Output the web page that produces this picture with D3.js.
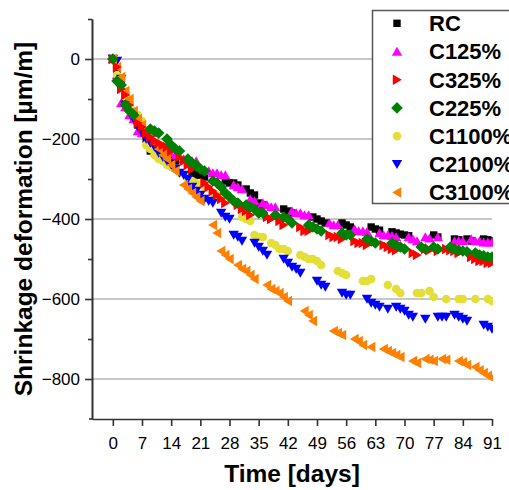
<!DOCTYPE html>
<html>
<head>
<meta charset="utf-8">
<script src="https://cdn.jsdelivr.net/npm/d3@7"></script>
<style>
  body { margin: 0; background: #fff; }
  text { font-family: Arial, "Liberation Sans", sans-serif; }
</style>
</head>
<body>
<div id="chart"></div>
<script>
// shrinkage deformation [µm/m] vs time [days]
var rc = [[0,0],[1,-30],[2,-65],[3,-100],[4,-125],[5,-145],[6,-165],[7,-180],[8,-200],[9,-230],[10,-235],[11,-240],[12,-245],[14,-250],[15,-255],
  [19,-285],[20,-290],[21,-290],[22,-295],[27,-305],[28,-310],[29,-310],[30,-315],[32,-325],[33,-335],[34,-340],[35,-360],[36,-365],
  [41,-375],[42,-380],[43,-385],[48,-395],[49,-400],[50,-405],[51,-410],[55,-410],[56,-415],[57,-420],[62,-420],[63,-425],[64,-428],
  [67,-432],[68,-435],[69,-438],[70,-440],[71,-442],[77,-440],[78,-445],[82,-450],[83,-452],[85,-450],[86,-455],[89,-450],[90,-452],[91,-455]]

var c125 = [[0,0],[1,-40],[2,-110],[3,-120],[4,-140],[5,-150],[6,-180],[7,-185],[9,-180],[10,-185],[12,-230],[13,-235],[14,-240],[15,-240],
  [17,-250],[18,-250],[19,-255],[20,-255],[23,-280],[24,-285],[25,-285],[26,-290],[27,-290],[29,-315],[30,-320],[31,-325],[33,-350],[34,-355],
  [36,-360],[37,-365],[38,-370],[39,-370],[43,-380],[44,-385],[45,-385],[46,-390],[47,-390],[52,-410],[53,-415],[54,-415],[58,-425],[59,-430],
  [60,-430],[61,-432],[64,-435],[65,-440],[66,-440],[67,-442],[68,-445],[71,-445],[72,-450],[73,-455],[75,-445],[76,-448],[78,-445],
  [82,-455],[83,-455],[84,-455],[86,-450],[87,-455],[88,-455],[89,-458],[90,-458],[91,-458]]

var c325 = [[0,0],[1,-20],[2,-75],[3,-90],[4,-115],[5,-135],[6,-160],[7,-170],[8,-185],[9,-195],[10,-205],[11,-210],[12,-215],[13,-220],[14,-230],
  [16,-245],[17,-255],[18,-265],[19,-275],[22,-310],[23,-320],[24,-330],[25,-340],[26,-350],[27,-360],[30,-365],[31,-375],[32,-380],[33,-390],
  [36,-385],[37,-395],[38,-400],[40,-405],[41,-415],[45,-420],[46,-430],[47,-430],[52,-440],[53,-445],[54,-445],[55,-450],[58,-455],[59,-460],
  [60,-460],[61,-465],[65,-465],[66,-470],[67,-475],[68,-478],[72,-485],[73,-490],[75,-475],[76,-478],[78,-480],[80,-475],[81,-478],[82,-480],
  [83,-485],[86,-495],[87,-500],[88,-505],[89,-505],[90,-510],[91,-510]]

var c225 = [[0,0],[1,-55],[2,-65],[3,-115],[4,-130],[5,-140],[9,-175],[10,-180],[11,-185],[13,-200],[14,-215],[15,-225],[16,-230],
  [18,-250],[19,-260],[20,-265],[21,-275],[22,-280],[24,-305],[25,-310],[26,-320],[27,-335],[28,-345],[29,-355],[30,-360],[32,-365],[33,-370],
  [34,-375],[35,-385],[36,-385],[39,-390],[41,-395],[42,-400],[43,-410],[47,-415],[48,-420],[49,-425],[50,-430],[55,-435],[56,-440],[57,-440],
  [61,-450],[62,-455],[63,-460],[67,-460],[68,-465],[69,-470],[70,-475],[74,-470],[75,-475],[77,-470],[78,-475],[81,-470],[82,-475],[83,-478],
  [84,-480],[85,-482],[87,-485],[88,-490],[89,-492],[90,-495],[91,-495]]

var c1100 = [[0,0],[1,-40],[2,-70],[3,-95],[4,-115],[5,-130],[6,-140],[7,-155],[8,-215],[9,-225],[10,-240],[11,-250],[12,-255],[13,-265],[14,-270],
  [16,-285],[18,-300],[19,-305],[20,-310],[21,-315],[22,-320],[24,-335],[25,-340],[26,-345],[31,-395],[32,-400],[33,-405],[34,-440],[35,-445],
  [36,-445],[38,-460],[39,-465],[40,-475],[41,-475],[42,-480],[45,-490],[46,-495],[47,-500],[48,-500],[49,-505],[50,-515],[54,-530],[55,-535],
  [56,-540],[60,-555],[61,-555],[62,-550],[66,-565],[68,-575],[69,-585],[73,-585],[74,-585],[76,-580],[77,-595],[80,-600],[83,-600],[84,-600],
  [87,-600],[90,-600],[91,-605]]

var c2100 = [[0,0],[1,-5],[2,-50],[3,-115],[4,-135],[5,-150],[6,-170],[7,-185],[8,-200],[9,-210],[10,-220],[11,-235],[12,-245],[13,-255],[14,-265],
  [15,-275],[16,-285],[17,-290],[18,-300],[19,-320],[20,-330],[21,-340],[22,-350],[23,-355],[24,-360],[26,-385],[27,-395],[28,-400],[29,-440],
  [30,-445],[31,-455],[34,-460],[35,-470],[36,-480],[37,-490],[41,-500],[42,-510],[43,-520],[44,-525],[45,-535],[49,-555],[50,-565],[51,-570],
  [55,-585],[56,-590],[57,-590],[61,-600],[62,-610],[63,-615],[64,-620],[66,-625],[68,-620],[69,-625],[70,-630],[71,-640],[72,-645],[75,-650],
  [78,-645],[79,-645],[80,-645],[82,-640],[83,-645],[84,-650],[85,-655],[89,-665],[90,-670],[91,-675]]

var c3100 = [[0,0],[1,-20],[2,-45],[3,-80],[4,-100],[5,-130],[6,-150],[7,-165],[8,-180],[9,-195],[10,-210],[11,-225],[12,-240],[13,-250],[14,-265],
  [15,-280],[17,-315],[18,-325],[19,-335],[20,-345],[21,-355],[24,-415],[25,-435],[26,-480],[27,-490],[28,-500],[30,-515],[31,-525],[32,-530],
  [33,-540],[34,-550],[37,-565],[38,-575],[39,-580],[40,-585],[41,-595],[42,-605],[46,-630],[47,-640],[48,-655],[53,-680],[54,-685],[55,-690],
  [58,-700],[59,-705],[60,-715],[62,-720],[65,-725],[66,-730],[67,-735],[68,-740],[69,-745],[72,-755],[73,-760],[75,-750],[76,-752],[77,-755],
  [79,-750],[80,-752],[83,-755],[84,-758],[85,-765],[87,-770],[88,-778],[89,-785],[90,-792],[91,-797]]

var names = ['RC', 'C125%', 'C325%', 'C225%', 'C1100%', 'C2100%', 'C3100%']
var colors = ['#000000', '#ff00ff', '#ff0000', '#008000', '#e3df38', '#0000ff', '#ff8000']
var shapes = ['square', 'up', 'right', 'diamond', 'circle', 'down', 'left']
var allData = [rc, c125, c325, c225, c1100, c2100, c3100]
var drawOrder = [0, 1, 4, 5, 6, 2, 3]

var xTicks = [0, 7, 14, 21, 28, 35, 42, 49, 56, 63, 70, 77, 84, 91]
var yTicks = [0, -200, -400, -600, -800]
var yMinor = [100, -100, -300, -500, -700]

var W = 509, H = 490
var plotL = 92, plotR = 492, plotT = 19, plotB = 419

var svg = d3.select('#chart').append('svg')
  .attr('width', W)
  .attr('height', H)

var xMap = d3.scaleLinear().domain([-5, 91]).range([plotL, plotR])
var yMap = d3.scaleLinear().domain([-900, 100]).range([plotB, plotT])

function shapePath(s) {
  if (s == 'square') return 'M-3.7,-3.7h7.4v7.4h-7.4z'
  if (s == 'up') return 'M0,-4.8L5.2,4.2L-5.2,4.2Z'
  if (s == 'down') return 'M0,4.8L5.2,-4.2L-5.2,-4.2Z'
  if (s == 'right') return 'M4.8,0L-4.2,-5.2L-4.2,5.2Z'
  if (s == 'left') return 'M-4.8,0L4.2,-5.2L4.2,5.2Z'
  if (s == 'diamond') return 'M0,-5.8L5.8,0L0,5.8L-5.8,0Z'
  return 'M4.3,0A4.3,4.3 0 1,1 -4.3,0A4.3,4.3 0 1,1 4.3,0Z'
}

// grid
svg.append('g').selectAll('line')
  .data(yTicks).enter().append('line')
  .attr('x1', plotL)
  .attr('x2', plotR)
  .attr('y1', d => yMap(d))
  .attr('y2', d => yMap(d))
  .style('stroke', '#b4b4b4')
  .style('stroke-width', 1.5)

// points
svg.append('clipPath').attr('id', 'plotClip')
  .append('rect')
  .attr('x', plotL)
  .attr('y', plotT)
  .attr('width', plotR - plotL + 1)
  .attr('height', plotB - plotT)

var gPts = svg.append('g').attr('clip-path', 'url(#plotClip)')

drawOrder.forEach(function(k) {
  gPts.append('g').selectAll('path')
    .data(allData[k]).enter().append('path')
    .attr('transform', d => 'translate(' + [xMap(d[0]), yMap(d[1])] + ')')
    .attr('d', shapePath(shapes[k]))
    .style('fill', colors[k])
})

// axes
var yAxis = d3.axisLeft(yMap)
  .tickValues(yTicks)
  .tickSize(7)
  .tickPadding(5)
  .tickSizeOuter(0)
  .tickFormat(d3.format('d'))

var yAxisMinor = d3.axisLeft(yMap)
  .tickValues(yMinor)
  .tickSize(4)
  .tickSizeOuter(0)
  .tickFormat('')

var xAxis = d3.axisBottom(xMap)
  .tickValues(xTicks)
  .tickSize(7)
  .tickPadding(11)
  .tickSizeOuter(0)

var gY = svg.append('g')
  .attr('transform', 'translate(' + plotL + ',0)')
  .call(yAxis)
var gYm = svg.append('g')
  .attr('transform', 'translate(' + plotL + ',0)')
  .call(yAxisMinor)
var gX = svg.append('g')
  .attr('transform', 'translate(0,' + plotB + ')')
  .call(xAxis)

;[gY, gYm, gX].forEach(function(g) {
  g.attr('font-size', 17).attr('font-family', 'Arial, "Liberation Sans", sans-serif')
  g.select('.domain').style('stroke', '#333').style('stroke-width', 1.6)
  g.selectAll('.tick line').style('stroke', '#333').style('stroke-width', 1.6)
  g.selectAll('.tick text').style('fill', '#000')
})

// x axis line runs a bit past the y axis
svg.append('line')
  .attr('x1', plotL - 3)
  .attr('x2', plotL)
  .attr('y1', plotB)
  .attr('y2', plotB)
  .style('stroke', '#333')
  .style('stroke-width', 1.6)

// titles
svg.append('text')
  .attr('x', (plotL + plotR) / 2)
  .attr('y', 482)
  .style('text-anchor', 'middle')
  .style('font-size', '24.5px')
  .style('font-weight', 'bold')
  .text('Time [days]')

svg.append('text')
  .attr('transform', 'translate(' + [32, (plotT + plotB) / 2] + ') rotate(-90)')
  .style('text-anchor', 'middle')
  .style('font-size', '24.5px')
  .style('font-weight', 'bold')
  .text('Shrinkage deformation [µm/m]')

// legend
var gL = svg.append('g')

gL.append('rect')
  .attr('x', 372.5)
  .attr('y', 10.5)
  .attr('width', 150)
  .attr('height', 193)
  .style('fill', 'white')
  .style('stroke', '#555')
  .style('stroke-width', 1.5)

var gItem = gL.selectAll('.item')
  .data(names).enter().append('g')
  .attr('class', 'item')
  .attr('transform', (d, i) => 'translate(' + [397, 23.3 + i * 28.2] + ')')

gItem.append('path')
  .attr('d', (d, i) => shapePath(shapes[i]))
  .style('fill', (d, i) => colors[i])

gItem.append('text')
  .attr('x', 32)
  .attr('y', 7.8)
  .style('font-size', '22px')
  .style('font-weight', 'bold')
  .text(d => d)
</script>
</body>
</html>
